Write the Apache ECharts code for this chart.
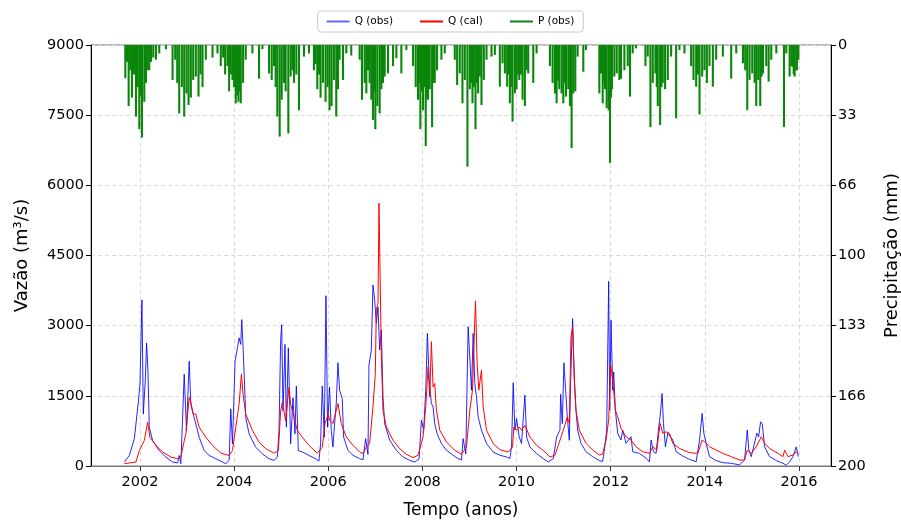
<!DOCTYPE html>
<html><head><meta charset="utf-8">
<script src="https://cdn.jsdelivr.net/npm/echarts@6/dist/echarts.min.js"></script>
<style>html,body{margin:0;padding:0;background:#fff}#c{width:901px;height:521px}</style>
</head><body><div id="c"></div>
<script>
// ---- data (decimal years) ----
const yearTicks = [2002,2004,2006,2008,2010,2012,2014,2016];
const leftTicks = [0,1500,3000,4500,6000,7500,9000];
const seriesNames = ['Q (obs)','Q (cal)','P (obs)'];

const qObsT = [2001.668,2001.774,2001.88,2001.965,2002.0,2002.042,2002.071,2002.113,2002.141,2002.17,2002.198,2002.269,2002.41,2002.551,2002.693,2002.799,2002.834,2002.869,2002.94,2002.989,2003.046,2003.081,2003.131,2003.187,2003.258,2003.364,2003.47,2003.611,2003.753,2003.823,2003.894,2003.929,2003.965,2004.021,2004.071,2004.106,2004.141,2004.163,2004.191,2004.219,2004.247,2004.318,2004.459,2004.601,2004.742,2004.848,2004.919,2004.954,2004.989,2005.011,2005.039,2005.081,2005.11,2005.152,2005.201,2005.251,2005.293,2005.322,2005.364,2005.449,2005.59,2005.731,2005.802,2005.837,2005.873,2005.915,2005.951,2005.986,
2006.028,2006.064,2006.099,2006.135,2006.17,2006.206,2006.241,2006.298,2006.326,2006.418,2006.525,2006.667,2006.738,2006.794,2006.844,2006.865,2006.915,2006.95,2006.986,2007.021,2007.057,2007.092,2007.128,2007.163,2007.199,2007.305,2007.447,2007.589,2007.73,2007.837,2007.929,2007.979,2008.028,2008.071,2008.106,2008.142,2008.191,2008.227,2008.262,2008.312,2008.404,2008.511,2008.652,2008.759,2008.83,2008.865,2008.922,2008.972,2009.007,2009.043,2009.078,2009.113,2009.149,2009.184,2009.255,2009.362,2009.504,2009.645,2009.787,2009.858,2009.894,2009.929,2009.965,2010.0,2010.057,2010.106,2010.177,2010.213,2010.284,2010.426,2010.567,2010.674,2010.78,2010.851,2010.922,2010.936,2010.972,2011.007,2011.043,2011.078,
2011.121,2011.156,2011.191,2011.227,2011.262,2011.298,2011.369,2011.475,2011.617,2011.759,2011.83,2011.865,2011.915,2011.957,2011.979,2012.007,2012.043,2012.064,2012.099,2012.149,2012.22,2012.255,2012.326,2012.433,2012.468,2012.61,2012.752,2012.823,2012.858,2012.908,2012.965,2013.021,2013.05,2013.092,2013.121,2013.163,2013.213,2013.248,2013.319,2013.39,2013.532,2013.674,2013.816,2013.887,2013.943,2013.979,2014.028,2014.099,2014.241,2014.383,2014.56,2014.738,2014.844,2014.901,2014.936,2014.986,2015.106,2015.142,2015.184,2015.22,2015.27,2015.376,2015.518,2015.66,2015.73,2015.801,2015.872,2015.943,2015.986];
const qObsV = [85,225,580,1360,1750,3550,1110,1820,2630,2030,830,545,330,190,85,65,225,50,1960,760,2240,1320,1110,900,615,330,225,155,85,50,120,1220,475,2240,2525,2740,2600,3130,2525,1820,1040,690,400,260,155,120,190,760,2700,3020,1180,2600,830,2525,475,1460,690,1710,330,300,225,155,105,475,1710,615,3640,830,
1690,765,405,905,1335,2207,1620,1440,620,335,230,157,135,585,250,2157,2480,3870,3550,3050,3400,2480,2910,1480,905,550,335,193,120,85,150,980,765,1620,2836,1907,1335,1264,905,693,480,335,230,157,130,585,260,2980,3015,1620,2836,1765,1480,1050,765,480,300,230,193,160,405,1780,765,1015,620,480,1515,620,405,265,157,85,157,620,765,1535,905,2207,1620,1050,
550,2050,3150,1830,1195,770,485,305,200,115,100,340,770,3950,1195,3115,1620,2010,1195,700,555,770,485,625,305,270,165,90,555,305,270,840,1050,1550,910,410,700,730,555,305,213,142,92,555,1125,700,485,200,115,71,57,25,128,770,340,200,700,620,945,900,410,200,115,57,20,90,200,410,200];

const qCalT = [2001.668,2001.915,2001.986,2002.092,2002.163,2002.212,2002.339,2002.481,2002.657,2002.799,2002.869,2002.926,2002.975,2003.046,2003.081,2003.131,2003.187,2003.258,2003.399,2003.541,2003.717,2003.894,2003.965,2004.035,2004.106,2004.155,2004.191,2004.247,2004.389,2004.53,2004.671,2004.848,2004.94,2004.989,2005.025,2005.095,2005.166,2005.201,2005.272,2005.343,2005.449,2005.59,2005.767,2005.873,2005.929,2006.0,
2006.028,2006.099,2006.17,2006.206,2006.277,2006.383,2006.525,2006.667,2006.738,2006.809,2006.879,2006.95,2007.0,2007.021,2007.057,2007.078,2007.106,2007.128,2007.163,2007.234,2007.376,2007.518,2007.66,2007.801,2007.908,2008.014,2008.071,2008.121,2008.156,2008.191,2008.227,2008.262,2008.298,2008.369,2008.511,2008.688,2008.83,2008.936,2009.007,2009.064,2009.092,2009.128,2009.163,2009.199,2009.255,2009.291,2009.362,2009.504,2009.645,2009.823,2009.915,2009.943,2010.0,2010.057,2010.106,2010.177,2010.284,2010.426,2010.603,2010.709,2010.816,2010.887,2010.993,2011.078,
2011.121,2011.156,2011.191,2011.227,2011.262,2011.333,2011.475,2011.617,2011.759,2011.83,2011.901,2011.957,2012.0,2012.043,2012.099,2012.149,2012.22,2012.326,2012.433,2012.539,2012.681,2012.823,2012.894,2012.979,2013.05,2013.106,2013.177,2013.248,2013.319,2013.461,2013.674,2013.851,2013.943,2013.993,2014.099,2014.241,2014.383,2014.56,2014.738,2014.844,2014.901,2014.986,2015.092,2015.199,2015.27,2015.376,2015.553,2015.66,2015.695,2015.766,2015.872,2015.943,2015.986];
const qCalV = [50,85,330,545,935,615,440,300,190,155,190,475,690,1465,1360,1110,1110,830,615,440,275,225,330,830,1320,1960,1535,1110,760,510,370,275,330,1180,1360,970,1680,1320,1040,760,615,440,275,400,900,1110,
980,905,1190,1335,905,620,443,300,265,405,480,1264,1980,3336,3480,5620,3765,2336,1190,835,550,370,250,180,230,620,1264,2120,1480,2657,1690,1765,1190,765,515,335,250,405,1190,1620,2480,3530,2190,1620,2050,1264,765,480,350,300,405,835,765,835,765,870,620,443,300,193,230,443,765,1050,
910,2760,2970,1905,1195,770,485,340,235,260,555,980,2155,1835,1195,1050,805,625,555,410,305,270,410,340,910,700,730,700,485,375,285,270,555,520,410,340,270,200,128,128,340,270,410,625,485,375,270,200,340,200,235,305,270];

const pT = [2001.689,2001.724,2001.76,2001.795,2001.83,2001.873,2001.915,2001.95,2001.986,2002.021,2002.042,2002.092,2002.127,2002.163,2002.198,2002.233,2002.283,2002.339,2002.41,2002.551,
2002.693,2002.749,2002.792,2002.834,2002.89,2002.94,2002.989,2003.032,2003.081,2003.131,2003.187,2003.244,2003.286,2003.329,2003.399,2003.541,2003.647,
2003.717,2003.767,2003.809,2003.859,2003.894,2003.929,2003.965,2004.0,2004.035,2004.064,2004.092,2004.12,2004.141,2004.191,2004.247,2004.389,2004.53,2004.601,
2004.742,2004.799,2004.848,2004.883,2004.919,2004.968,2005.011,2005.06,2005.095,2005.152,2005.201,2005.237,2005.272,2005.322,2005.378,2005.484,2005.59,
2005.696,2005.731,2005.767,2005.802,2005.837,2005.887,2005.943,2005.986,2006.028,2006.071,2006.12,2006.17,2006.206,2006.241,2006.312,2006.383,2006.489,
2006.667,2006.716,2006.773,2006.809,2006.844,2006.879,2006.915,2006.95,2006.979,2007.0,2007.043,2007.092,2007.128,2007.163,2007.199,2007.27,2007.376,2007.447,2007.553,2007.66,
2007.801,2007.858,2007.908,2007.929,2007.957,2007.986,2008.014,2008.05,2008.071,2008.099,2008.121,2008.156,2008.206,2008.241,2008.262,2008.312,2008.404,2008.475,
2008.688,2008.738,2008.794,2008.851,2008.901,2008.957,2009.007,2009.035,2009.064,2009.092,2009.128,2009.156,2009.184,2009.22,2009.255,2009.305,2009.362,2009.468,2009.539,
2009.645,2009.702,2009.752,2009.801,2009.83,2009.858,2009.887,2009.915,2009.965,2010.0,2010.035,2010.057,2010.092,2010.128,2010.177,2010.213,2010.248,2010.355,2010.426,
2010.709,2010.766,2010.816,2010.851,2010.879,2010.908,2010.957,2010.993,2011.021,2011.05,2011.099,2011.135,2011.17,2011.206,2011.248,2011.298,2011.418,2011.475,
2011.759,2011.794,2011.83,2011.858,2011.879,2011.915,2011.957,2011.986,2012.007,2012.028,2012.078,2012.128,2012.184,2012.22,2012.291,2012.362,2012.411,2012.468,2012.539,
2012.738,2012.787,2012.844,2012.894,2012.95,2012.979,2013.0,2013.05,2013.078,2013.106,2013.156,2013.213,2013.284,2013.39,2013.461,2013.567,
2013.709,2013.759,2013.816,2013.851,2013.887,2013.943,2013.993,2014.043,2014.099,2014.17,2014.241,2014.383,2014.56,2014.667,
2014.809,2014.858,2014.901,2014.95,2015.007,2015.057,2015.092,2015.135,2015.177,2015.206,2015.234,2015.305,2015.355,2015.411,2015.518,
2015.681,2015.73,2015.801,2015.837,2015.858,2015.887,2015.908,2015.943,2015.957,2015.986];
const pV = [15.8,8,29,12,25,14,34,20,40,24,44,27,18,12,12,8,6,7,4,2,
16.6,7,18,32.5,20,34,23,28.5,25,16.6,15,24.5,14,20,7,6,4,
10,6,14,10,22,14,16.6,20,27.7,24,27,22,27.7,18,7,4,16,2,
13.5,16.6,10,20,34,43.5,26,18,22,42,15,12,18,14,31,5.5,4,
12,9,21,14,25,18,27,20,31,29,16.6,34,21,7,16.6,4,5,
7,26,18,23,12,18,26,35.6,22,40,29,32.5,21,18,15,13.5,10,6.3,13.5,2.4,
10,20,26,18,40,22,31,20,48,25,26,21,39,18,18,12,7,4,
7,19,13.5,27.7,16.6,57.8,21,18,27.7,20,40,18,23,15,28.5,16.6,7,5.5,4.7,
19.8,8.7,13.5,19.8,14,27.7,20,36.4,23,21,14,16.6,14,26,29,12,13.5,18,4,
10,18,23,27.7,17,21,23,27.7,18,24.5,21,29,49,23,22,5.5,12.7,2.4,
23,13.5,27.7,18,21,30,31,56,25,21,15,13.5,16.6,16,12,10,24.5,4,1.6,
10,5.5,39,18,13.5,20,29,38,20,18,21,16.6,5.5,34.8,2.4,4,
10,16.6,19.8,14,33,15,12,18,10,19.8,7,5.5,16,4,
8.7,12,31,16.6,13.5,18,29,16.6,29,15,13.5,10,17.4,7,4,
39,4,15,10,10.3,14,15,12,12,7];

function zip(a,b){return a.map((v,i)=>[v,b[i]]);}

const FONT = 'DejaVu Sans';
const chart = echarts.init(document.getElementById('c'), null, {renderer:'canvas'});
const dashed = {show:true, lineStyle:{color:'#d9d9d9', type:[4,3], width:1}};
chart.setOption({
  animation:false,
  textStyle:{fontFamily:FONT},
  grid:{left:91, right:70, top:45, bottom:55, show:true, borderColor:'#777', borderWidth:1,
        containLabel:false, outerBoundsMode:'none'},
  legend:{
    top:11, left:'center', itemWidth:23, itemHeight:2, itemGap:27,
    padding:[5,9], borderColor:'#ccc', borderWidth:1, borderRadius:3,
    textStyle:{fontFamily:FONT, fontSize:10.5, color:'#000'},
    data: seriesNames.map(n=>({name:n, icon:'rect'}))
  },
  xAxis:{
    type:'value', min:2000.96, max:2016.68,
    axisLine:{show:true, lineStyle:{color:'#777'}},
    axisTick:{show:true, customValues:yearTicks, length:5, lineStyle:{color:'#333'}},
    axisLabel:{customValues:yearTicks, fontSize:14.5, color:'#000', margin:9, fontFamily:FONT,
      formatter:v=>String(Math.round(v))},
    splitLine:dashed,
    name:'Tempo (anos)', nameLocation:'middle', nameGap:36,
    nameTextStyle:{fontSize:17, color:'#000', fontFamily:FONT}
  },
  yAxis:[{
    type:'value', min:0, max:9000, interval:1500,
    axisLine:{show:true, lineStyle:{color:'#000'}},
    axisTick:{show:true, length:5, lineStyle:{color:'#000'}},
    axisLabel:{fontSize:14.5, color:'#000', margin:7, fontFamily:FONT,
      formatter:v=>String(Math.round(v))},
    splitLine:dashed,
    name:'Vazão (m³/s)', nameLocation:'middle', nameGap:60,
    nameTextStyle:{fontSize:18, color:'#000', fontFamily:FONT}
  },{
    type:'value', min:0, max:200, interval:200/6, inverse:true, position:'right',
    axisLine:{show:true, lineStyle:{color:'#000'}},
    axisTick:{show:true, length:5, lineStyle:{color:'#000'}},
    axisLabel:{fontSize:14.5, color:'#000', margin:7, fontFamily:FONT,
      formatter:v=>String(Math.floor(v+1e-6))},
    splitLine:{show:false},
    name:'Precipitação (mm)', nameLocation:'middle', nameGap:52,
    nameTextStyle:{fontSize:18, color:'#000', fontFamily:FONT}
  }],
  series:[
    {name:'Q (obs)', type:'line', data:zip(qObsT,qObsV), symbol:'none',
      lineStyle:{width:1, color:'rgba(0,0,255,0.85)'}, itemStyle:{color:'rgba(0,0,255,0.6)'}, z:2},
    {name:'Q (cal)', type:'line', data:zip(qCalT,qCalV), symbol:'none',
      lineStyle:{width:1, color:'#ff0000'}, itemStyle:{color:'#ff0000'}, z:3},
    {name:'P (obs)', type:'bar', yAxisIndex:1, data:zip(pT,pV), barWidth:2.1,
      itemStyle:{color:'#0a870a'}, z:4}
  ]
});
</script></body></html>
